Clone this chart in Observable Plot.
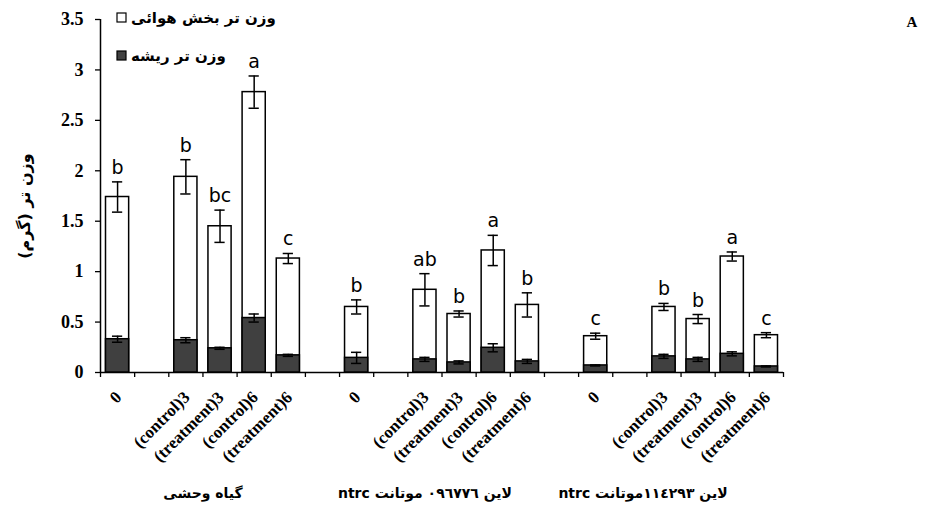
<!DOCTYPE html>
<html><head><meta charset="utf-8">
<script src="https://cdn.jsdelivr.net/npm/d3@7"></script>
<script src="https://cdn.jsdelivr.net/npm/@observablehq/plot@0.6"></script>
<style>
body{margin:0;background:#fff;}
#chart{position:relative;width:935px;height:515px;}
</style></head><body><div id="chart"></div>
<script>
const groups = ["گیاه وحشی", "لاین ٠٩٦٧٧٦ موتانت ntrc", "لاین ١١٤٢٩٣موتانت ntrc"];
const treatments = ["0", "(control)3", "(treatment)3", "(control)6", "(treatment)6"];
const shootWeight = [[1.74, 1.94, 1.45, 2.78, 1.13], [0.65, 0.82, 0.58, 1.21, 0.67], [0.36, 0.65, 0.53, 1.15, 0.37]];
const shootError = [[0.15, 0.17, 0.16, 0.16, 0.05], [0.07, 0.16, 0.03, 0.15, 0.12], [0.03, 0.035, 0.045, 0.045, 0.025]];
const rootWeight = [[0.33, 0.32, 0.24, 0.54, 0.17], [0.145, 0.13, 0.10, 0.245, 0.11], [0.07, 0.16, 0.13, 0.185, 0.06]];
const rootError = [[0.03, 0.025, 0.01, 0.04, 0.01], [0.055, 0.02, 0.015, 0.04, 0.02], [0.005, 0.02, 0.02, 0.02, 0.005]];
const letters = [["b", "b", "bc", "a", "c"], ["b", "ab", "b", "a", "b"], ["c", "b", "b", "a", "c"]];
const yTicks = [0, 0.5, 1, 1.5, 2, 2.5, 3, 3.5];
const legendLabels = ["وزن تر بخش هوائی", "وزن تر ریشه"];
const yLabel = "وزن تر (گرم)";
const panelLabel = "A";

const RTL = s => "\u202B" + s + "\u202C";
const slotsPerGroup = 7;
const rows = [];
groups.forEach((g, gi) => treatments.forEach((t, ti) => {
  const s = gi * slotsPerGroup + (ti === 0 ? 0 : ti + 1);
  rows.push({group: g, treatment: t, s0: s, s1: s + 1, sc: s + 0.5,
    shoot: shootWeight[gi][ti], shootErr: shootError[gi][ti],
    root: rootWeight[gi][ti], rootErr: rootError[gi][ti], letter: letters[gi][ti]});
}));
const nSlots = groups.length * slotsPerGroup - 1;
const cap = 0.15;
const serif = "'Liberation Serif', 'Times New Roman', serif";
const arabic = "'DejaVu Sans', sans-serif";

const plot = Plot.plot({
  width: 935, height: 515,
  marginLeft: 100, marginRight: 152, marginTop: 19, marginBottom: 143,
  style: {fontFamily: serif, background: "#fff", overflow: "visible"},
  x: {type: "linear", domain: [0, nSlots]},
  y: {domain: [0, 3.5]},
  marks: [
    Plot.axisY({ticks: yTicks, tickFormat: d => String(d), tickSize: 5, tickPadding: 12,
      fontSize: 18, fontWeight: "bold", label: null, stroke: "#000", strokeWidth: 1.3}),
    Plot.axisX({ticks: d3.range(nSlots + 1), tickFormat: () => "", tickSize: 5, label: null, strokeWidth: 1.3}),
    Plot.ruleX([0], {y1: 0, y2: 3.5, stroke: "#000", strokeWidth: 1.5}),
    Plot.ruleY([0], {x1: 0, x2: nSlots, stroke: "#000", strokeWidth: 1.5}),
    Plot.rectY(rows, {x1: "s0", x2: "s1", y1: 0, y2: "shoot", fill: "#fff", stroke: "#000", strokeWidth: 1.5, insetLeft: 5.5, insetRight: 5.5}),
    Plot.rectY(rows, {x1: "s0", x2: "s1", y1: 0, y2: "root", fill: "#404040", stroke: "#000", strokeWidth: 1.5, insetLeft: 5.5, insetRight: 5.5}),
    Plot.ruleX(rows, {x: "sc", y1: d => d.shoot - d.shootErr, y2: d => d.shoot + d.shootErr, stroke: "#000", strokeWidth: 1.5}),
    Plot.ruleY(rows, {y: d => d.shoot + d.shootErr, x1: d => d.sc - cap, x2: d => d.sc + cap, stroke: "#000", strokeWidth: 1.5}),
    Plot.ruleY(rows, {y: d => d.shoot - d.shootErr, x1: d => d.sc - cap, x2: d => d.sc + cap, stroke: "#000", strokeWidth: 1.5}),
    Plot.ruleX(rows, {x: "sc", y1: d => d.root - d.rootErr, y2: d => d.root + d.rootErr, stroke: "#000", strokeWidth: 1.5}),
    Plot.ruleY(rows, {y: d => d.root + d.rootErr, x1: d => d.sc - cap, x2: d => d.sc + cap, stroke: "#000", strokeWidth: 1.5}),
    Plot.ruleY(rows, {y: d => d.root - d.rootErr, x1: d => d.sc - cap, x2: d => d.sc + cap, stroke: "#000", strokeWidth: 1.5}),
    Plot.text(rows, {x: "sc", y: d => d.shoot + d.shootErr, text: "letter", lineAnchor: "bottom", dy: -8,
      fontSize: 19, fontFamily: arabic, fill: "#000"}),
    Plot.text(rows, {x: "sc", y: 0, text: "treatment", rotate: -45, textAnchor: "end", lineAnchor: "middle",
      dx: 1, dy: 22, fontSize: 17, fontWeight: "bold", fill: "#000"})
  ]
});
document.getElementById("chart").appendChild(plot);

const svg = d3.select(plot);
// y-axis label
svg.append("text").attr("transform", "translate(25,206) rotate(-90)")
  .attr("text-anchor", "middle").attr("dominant-baseline", "middle")
  .style("font-family", arabic).style("font-weight", "bold").style("font-size", "16px")
  .text(RTL(yLabel));
// panel label
svg.append("text").attr("x", 912).attr("y", 27).attr("text-anchor", "middle")
  .style("font-family", serif).style("font-weight", "bold").style("font-size", "15px").text(panelLabel);
// legend
const legendFill = ["#fff", "#404040"];
legendLabels.forEach((lab, i) => {
  const y = 18 + i * 38;
  svg.append("rect").attr("x", 117).attr("y", y - 5).attr("width", 9).attr("height", 9)
    .attr("fill", legendFill[i]).attr("stroke", "#000").attr("stroke-width", 1.2);
  const t = svg.append("text").attr("x", 0).attr("y", y).attr("text-anchor", "middle").attr("dominant-baseline", "middle")
    .style("font-family", arabic).style("font-weight", "bold").style("font-size", "15px")
    .text(RTL(lab));
  const len = t.node().getComputedTextLength();
  t.attr("x", 131 + len / 2);
});
// group labels
const groupLabelX = [203, 425, 643];
groups.forEach((g, gi) => {
  svg.append("text").attr("x", groupLabelX[gi]).attr("y", 498).attr("text-anchor", "middle")
    .style("font-family", arabic + ", " + serif).style("font-weight", "bold").style("font-size", "14px")
    .text(RTL(g));
});
</script></body></html>
